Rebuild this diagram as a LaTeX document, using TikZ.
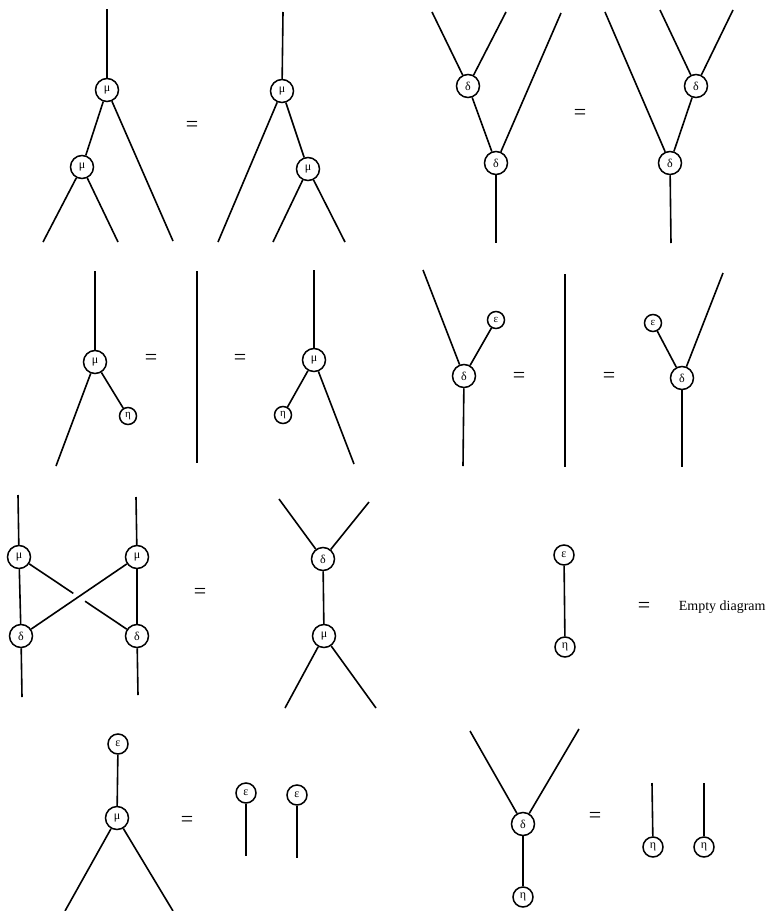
\documentclass[tikz,border=0pt]{standalone}
\usepackage{fontspec}
\newfontfamily\gfont{Liberation Serif}
\begin{document}
\begin{tikzpicture}[x=1pt,y=-1pt,
  every path/.style={line width=1.6pt},
  big/.style={circle, draw, line width=1.5pt, minimum size=23pt, inner sep=0pt, font=\gfont\fontsize{12}{12}\selectfont},
  sml/.style={circle, draw, line width=1.5pt, minimum size=20pt, inner sep=0pt, font=\gfont\fontsize{12}{12}\selectfont},
  tiny/.style={sml, minimum size=17pt, font=\gfont\fontsize{11}{11}\selectfont},
  eq/.style={font=\gfont\fontsize{22}{22}\selectfont, inner sep=0pt}]
\useasboundingbox (0,0) rectangle (766,911);
% ---------- panel 1 ----------
\node[big] (a1) at (107,90) {μ};
\node[big] (a2) at (82,167) {μ};
\coordinate (a1t) at (107,9);
\coordinate (a1r) at (173,241);
\coordinate (a2l) at (43,242);
\coordinate (a2r) at (118,242);
\draw (a1t) -- (a1); \draw (a1) -- (a2); \draw (a1) -- (a1r);
\draw (a2) -- (a2l); \draw (a2) -- (a2r);
\node[eq] (e1) at (192,126) {=};
\node[big] (b1) at (282,91) {μ};
\node[big] (b2) at (308,169) {μ};
\coordinate (b1t) at (283,12);
\coordinate (b1l) at (218,242);
\coordinate (b2l) at (273,242);
\coordinate (b2r) at (345,242);
\draw (b1t) -- (b1); \draw (b1) -- (b1l); \draw (b1) -- (b2);
\draw (b2) -- (b2l); \draw (b2) -- (b2r);
% ---------- panel 2 ----------
\node[big] (c1) at (468,86) {δ};
\node[big] (c2) at (496,163) {δ};
\coordinate (c1l) at (432,12);
\coordinate (c1r) at (506,12);
\coordinate (c2r) at (561,13);
\coordinate (c2b) at (496,243);
\draw (c1l) -- (c1); \draw (c1r) -- (c1); \draw (c2r) -- (c2);
\draw (c1) -- (c2); \draw (c2) -- (c2b);
\node[eq] (e2) at (580,114) {=};
\node[big] (d1) at (696,86) {δ};
\node[big] (d2) at (670,163) {δ};
\coordinate (d2l) at (605,12);
\coordinate (d1l) at (660,10);
\coordinate (d1r) at (733,10);
\coordinate (d2b) at (671,243);
\draw (d2l) -- (d2); \draw (d1l) -- (d1); \draw (d1r) -- (d1);
\draw (d1) -- (d2); \draw (d2) -- (d2b);
% ---------- panel 3 ----------
\node[big] (f1) at (95,362) {μ};
\node[tiny] (f2) at (128,416) {η};
\coordinate (f1t) at (95,271);
\coordinate (f1l) at (56,466);
\draw (f1t) -- (f1); \draw (f1) -- (f2); \draw (f1) -- (f1l);
\node[eq] (e3) at (151,359) {=};
\coordinate (v1t) at (197,271);
\coordinate (v1b) at (197,463);
\draw (v1t) -- (v1b);
\node[eq] (e4) at (240,359) {=};
\node[big] (g1) at (314,360) {μ};
\node[tiny] (g2) at (283,415) {η};
\coordinate (g1t) at (314,270);
\coordinate (g1r) at (354,464);
\draw (g1t) -- (g1); \draw (g1) -- (g2); \draw (g1) -- (g1r);
% ---------- panel 4 ----------
\node[big] (h1) at (464,376) {δ};
\node[tiny] (h2) at (496,320) {ε};
\coordinate (h1t) at (423,270);
\coordinate (h1b) at (463,466);
\draw (h1t) -- (h1); \draw (h1) -- (h2); \draw (h1) -- (h1b);
\node[eq] (e5) at (519,377) {=};
\coordinate (v2t) at (565,274);
\coordinate (v2b) at (565,467);
\draw (v2t) -- (v2b);
\node[eq] (e6) at (609,377) {=};
\node[big] (i1) at (682,378) {δ};
\node[tiny] (i2) at (653,323) {ε};
\coordinate (i1t) at (723,273);
\coordinate (i1b) at (682,467);
\draw (i1t) -- (i1); \draw (i1) -- (i2); \draw (i1) -- (i1b);
% ---------- panel 5 ----------
\node[big] (mL) at (19,557) {μ};
\node[big] (mR) at (137,557) {μ};
\node[big] (dL) at (21,636) {δ};
\node[big] (dR) at (137,636) {δ};
\coordinate (mLt) at (18,495);
\coordinate (mRt) at (136,497);
\coordinate (dLb) at (22,697);
\coordinate (dRb) at (138,695);
\draw (mLt) -- (mL); \draw (mRt) -- (mR);
\draw (mL) -- (dL); \draw (mR) -- (dR);
\draw (dL) -- (dLb); \draw (dR) -- (dRb);
\draw (mR) -- (dL);
\path (mL.center) -- (dR.center) coordinate[pos=0.46] (x1) coordinate[pos=0.56] (x2);
\draw (mL) -- (x1); \draw (x2) -- (dR);
\node[eq] (e7) at (200,593) {=};
\node[big] (j1) at (323,559) {δ};
\node[big] (j2) at (324,636) {μ};
\coordinate (j1l) at (279,499);
\coordinate (j1r) at (369,502);
\coordinate (j2l) at (285,708);
\coordinate (j2r) at (376,708);
\draw (j1l) -- (j1); \draw (j1r) -- (j1); \draw (j1) -- (j2);
\draw (j2) -- (j2l); \draw (j2) -- (j2r);
% ---------- panel 6 ----------
\node[sml] (k1) at (564,555) {ε};
\node[sml] (k2) at (565,647) {η};
\draw (k1) -- (k2);
\node[eq] (e8) at (644,607) {=};
\node[anchor=west, inner sep=0pt, font=\gfont\fontsize{14}{15}\selectfont] (empty) at (678,607) {Empty diagram};
% ---------- panel 7 ----------
\node[sml] (l1) at (118,744) {ε};
\node[big] (l2) at (117,818) {μ};
\coordinate (l2l) at (65,911);
\coordinate (l2r) at (173,911);
\draw (l1) -- (l2); \draw (l2) -- (l2l); \draw (l2) -- (l2r);
\node[eq] (e9) at (187,821) {=};
\node[sml] (n1) at (246,793) {ε};
\coordinate (n1b) at (246,856);
\draw (n1) -- (n1b);
\node[sml] (n2) at (297,795) {ε};
\coordinate (n2b) at (297,858);
\draw (n2) -- (n2b);
% ---------- panel 8 ----------
\node[big] (o1) at (523,824) {δ};
\node[sml] (o2) at (523,897) {η};
\coordinate (o1l) at (470,731);
\coordinate (o1r) at (579,729);
\draw (o1l) -- (o1); \draw (o1r) -- (o1); \draw (o1) -- (o2);
\node[eq] (e10) at (595,817) {=};
\node[sml] (p1) at (653,847) {η};
\coordinate (p1t) at (652,783);
\draw (p1t) -- (p1);
\node[sml] (p2) at (704,847) {η};
\coordinate (p2t) at (704,783);
\draw (p2t) -- (p2);
\end{tikzpicture}
\end{document}
